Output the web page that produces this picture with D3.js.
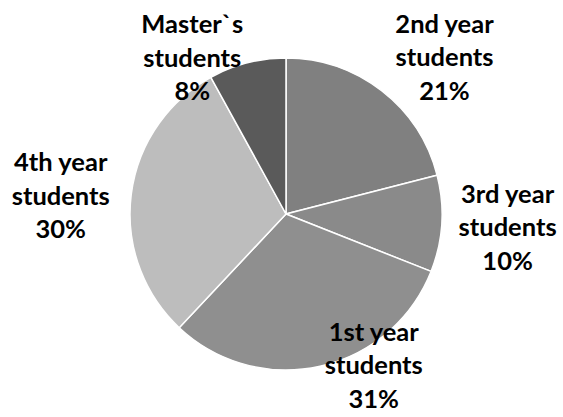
<!DOCTYPE html>
<html>
<head>
<meta charset="utf-8">
<script src="https://cdn.jsdelivr.net/npm/d3@7"></script>
<style>
  html, body { margin: 0; padding: 0; background: #fff; }
  svg text { font-family: Lato, "Open Sans", sans-serif; font-weight: 700; fill: #000; }
</style>
</head>
<body>
<svg id="chart" width="563" height="417"></svg>
<script>
// Data (clockwise from 12 o'clock)
const categories = ["2nd year students", "3rd year students", "1st year students", "4th year students", "Master`s students"];
const labelLines = [["2nd year", "students"], ["3rd year", "students"], ["1st year", "students"], ["4th year", "students"], ["Master`s", "students"]];
const values = [21, 10, 31, 30, 8];
const colors = ["#808080", "#8a8a8a", "#8f8f8f", "#bdbdbd", "#5a5a5a"];

// Layout (label placement relative to slice midpoint: angle shift in degrees, radius in px)
const labelLayout = [
  { shift: 7.5, r: 223 },
  { shift: -0.2, r: 222 },
  { shift: -17.5, r: 175 },
  { shift: -2.6, r: 226 },
  { shift: -16.6, r: 182 }
];

const width = 563, height = 417;
const cx = 286, cy = 214, radius = 156;
const fontSize = 25.5, lineH = 33.5;

const svg = d3.select("#chart");
const g = svg.append("g").attr("transform", `translate(${cx},${cy})`);

const pie = d3.pie().sort(null).value(d => d);
const arcs = pie(values);
const arc = d3.arc().innerRadius(0).outerRadius(radius);

g.selectAll("path.slice")
  .data(arcs)
  .join("path")
  .attr("class", "slice")
  .attr("d", arc)
  .attr("fill", (d, i) => colors[i])
  .attr("stroke", "#ffffff")
  .attr("stroke-width", 1.5);

const total = d3.sum(values);
g.selectAll("text.lbl")
  .data(arcs)
  .join("text")
  .attr("class", "lbl")
  .attr("text-anchor", "middle")
  .attr("font-size", fontSize)
  .each(function(d, i) {
    const mid = (d.startAngle + d.endAngle) / 2 + labelLayout[i].shift * Math.PI / 180;
    const r = labelLayout[i].r;
    const x = Math.sin(mid) * r;
    const y = -Math.cos(mid) * r;
    const lines = labelLines[i].concat([Math.round(d.value / total * 100) + "%"]);
    const t = d3.select(this);
    lines.forEach((ln, k) => {
      t.append("tspan")
        .attr("x", x)
        .attr("y", y + (k - 1) * lineH)
        .attr("dy", "0.35em")
        .text(ln);
    });
  });
</script>
</body>
</html>
